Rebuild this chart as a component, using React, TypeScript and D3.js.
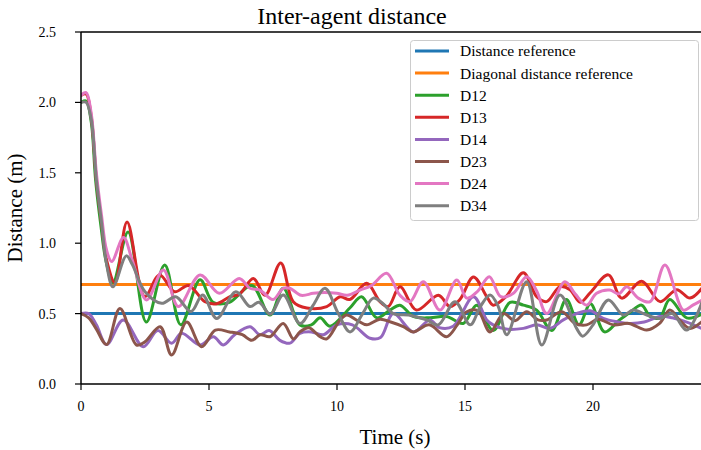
import React from 'react';
import * as d3 from 'd3';

type Pt = [number, number];

// time (s), distance (m)
const d12: Pt[] = [[0, 2.0], [0.2, 2.01], [0.4, 1.86], [0.57, 1.45], [0.78, 1.12], [0.97, 0.88], [1.25, 0.72], [1.84, 1.08], [2.55, 0.44], [3.27, 0.845], [3.9, 0.42], [4.65, 0.74], [5.16, 0.58], [5.8, 0.58], [6.67, 0.7], [7.38, 0.49], [7.9, 0.68], [8.55, 0.42], [9.0, 0.42], [9.34, 0.47], [9.73, 0.41], [10.5, 0.54], [10.96, 0.62], [11.55, 0.47], [12.07, 0.525], [12.46, 0.56], [12.98, 0.48], [13.63, 0.47], [14.28, 0.48], [14.93, 0.43], [15.46, 0.56], [16.1, 0.38], [16.76, 0.58], [17.28, 0.56], [17.8, 0.525], [18.39, 0.38], [18.96, 0.6], [19.45, 0.42], [19.9, 0.57], [20.45, 0.37], [21.0, 0.45], [21.45, 0.51], [21.9, 0.56], [22.23, 0.48], [22.6, 0.47], [23.0, 0.6], [23.66, 0.47], [24.3, 0.5]];
const d13: Pt[] = [[0, 2.05], [0.2, 2.06], [0.4, 1.9], [0.6, 1.45], [0.8, 1.15], [1.0, 0.88], [1.33, 0.72], [1.8, 1.15], [2.49, 0.62], [3.07, 0.775], [3.66, 0.655], [4.2, 0.7], [4.84, 0.585], [5.3, 0.57], [5.82, 0.62], [6.2, 0.64], [6.73, 0.75], [7.19, 0.63], [7.8, 0.86], [8.29, 0.585], [8.82, 0.54], [9.6, 0.55], [10.12, 0.62], [10.5, 0.6], [11.16, 0.715], [11.68, 0.585], [12.0, 0.55], [12.46, 0.69], [13.1, 0.525], [13.96, 0.63], [14.41, 0.55], [14.8, 0.6], [15.33, 0.76], [15.85, 0.62], [16.1, 0.56], [16.6, 0.62], [17.28, 0.79], [17.8, 0.62], [18.19, 0.585], [18.7, 0.69], [19.1, 0.67], [19.5, 0.58], [19.9, 0.65], [20.6, 0.775], [21.12, 0.61], [21.9, 0.73], [22.62, 0.585], [23.27, 0.67], [23.79, 0.61], [24.3, 0.69]];
const d14: Pt[] = [[0, 0.5], [0.3, 0.5], [0.6, 0.42], [1.0, 0.28], [1.65, 0.455], [2.43, 0.265], [3.0, 0.38], [3.54, 0.29], [3.93, 0.36], [4.65, 0.277], [5.17, 0.336], [5.56, 0.277], [6.0, 0.35], [6.6, 0.407], [6.99, 0.35], [7.35, 0.38], [7.77, 0.31], [8.16, 0.29], [8.55, 0.36], [9.0, 0.37], [9.47, 0.35], [9.99, 0.42], [10.6, 0.42], [11.29, 0.325], [11.7, 0.33], [12.2, 0.5], [12.98, 0.37], [13.63, 0.455], [14.0, 0.4], [14.54, 0.41], [15.33, 0.62], [15.85, 0.455], [16.1, 0.42], [16.6, 0.39], [17.28, 0.395], [17.8, 0.42], [18.32, 0.395], [18.84, 0.455], [19.36, 0.5], [19.9, 0.52], [20.4, 0.466], [21.0, 0.44], [21.45, 0.43], [22.0, 0.44], [22.62, 0.48], [23.1, 0.47], [23.66, 0.44], [24.3, 0.39]];
const d23: Pt[] = [[0, 0.5], [0.3, 0.47], [0.6, 0.39], [1.0, 0.28], [1.52, 0.537], [2.17, 0.277], [2.5, 0.3], [3.09, 0.407], [3.54, 0.206], [4.13, 0.44], [4.71, 0.265], [5.25, 0.383], [5.8, 0.37], [6.3, 0.35], [6.67, 0.31], [7.0, 0.35], [7.38, 0.336], [7.9, 0.43], [8.3, 0.32], [8.55, 0.37], [8.9, 0.4], [9.34, 0.336], [9.6, 0.32], [10.12, 0.455], [10.38, 0.49], [10.8, 0.45], [11.16, 0.42], [11.68, 0.46], [12.1, 0.44], [12.59, 0.407], [12.98, 0.37], [13.6, 0.42], [14.28, 0.336], [14.7, 0.42], [15.07, 0.513], [15.5, 0.52], [15.98, 0.37], [16.5, 0.5], [16.95, 0.45], [17.41, 0.513], [17.85, 0.455], [18.19, 0.455], [18.78, 0.513], [19.3, 0.43], [19.75, 0.42], [20.2, 0.46], [20.8, 0.42], [21.4, 0.43], [22.1, 0.383], [22.6, 0.43], [23.0, 0.525], [23.4, 0.45], [23.79, 0.395], [24.3, 0.45]];
const d24: Pt[] = [[0, 2.05], [0.2, 2.07], [0.4, 1.92], [0.6, 1.5], [0.8, 1.2], [1.0, 0.95], [1.2, 0.87], [1.66, 1.04], [2.0, 0.88], [2.56, 0.597], [3.22, 0.81], [3.8, 0.55], [4.65, 0.774], [5.4, 0.644], [6.18, 0.75], [6.6, 0.68], [6.99, 0.667], [7.5, 0.6], [7.9, 0.68], [8.16, 0.68], [8.6, 0.63], [9.07, 0.644], [9.5, 0.65], [9.99, 0.644], [10.4, 0.63], [10.9, 0.667], [11.35, 0.7], [11.94, 0.786], [12.46, 0.63], [12.85, 0.585], [13.37, 0.727], [14.02, 0.525], [14.68, 0.739], [15.07, 0.61], [15.5, 0.66], [15.95, 0.762], [16.4, 0.62], [16.89, 0.644], [17.41, 0.762], [17.8, 0.66], [18.19, 0.5], [18.9, 0.727], [19.3, 0.64], [19.75, 0.56], [20.14, 0.644], [20.66, 0.667], [21.0, 0.64], [21.32, 0.69], [21.77, 0.61], [22.23, 0.585], [22.81, 0.845], [23.53, 0.525], [23.9, 0.56], [24.3, 0.6]];
const d34: Pt[] = [[0, 2.0], [0.2, 2.0], [0.4, 1.88], [0.6, 1.45], [0.8, 1.15], [1.0, 0.85], [1.25, 0.69], [1.77, 0.91], [2.0, 0.85], [2.5, 0.655], [3.15, 0.573], [3.7, 0.62], [4.3, 0.515], [4.75, 0.632], [5.3, 0.466], [6.05, 0.656], [6.6, 0.55], [6.95, 0.58], [7.4, 0.495], [7.9, 0.632], [8.55, 0.43], [9.07, 0.56], [9.53, 0.68], [10.05, 0.5], [10.51, 0.37], [11.0, 0.5], [11.42, 0.61], [11.8, 0.57], [12.2, 0.5], [12.8, 0.49], [13.5, 0.455], [13.96, 0.42], [14.61, 0.585], [15.2, 0.42], [15.6, 0.55], [15.98, 0.632], [16.3, 0.55], [16.63, 0.35], [17.41, 0.727], [18.0, 0.277], [18.71, 0.632], [19.36, 0.395], [19.6, 0.34], [20.0, 0.42], [20.6, 0.597], [21.18, 0.49], [21.57, 0.525], [22.1, 0.49], [22.62, 0.466], [23.1, 0.5], [23.66, 0.383], [24.3, 0.6]];

const distanceRef = 0.5;
const diagonalRef = 0.7071;

const seriesNames = ['D12', 'D13', 'D14', 'D23', 'D24', 'D34'];
const seriesData = [d12, d13, d14, d23, d24, d34];
const seriesColors = ['#2ca02c', '#d62728', '#9467bd', '#8c564b', '#e377c2', '#7f7f7f'];

const refNames = ['Distance reference', 'Diagonal distance reference'];
const refValues = [distanceRef, diagonalRef];
const refColors = ['#1f77b4', '#ff7f0e'];

const xTicks = [0, 5, 10, 15, 20];
const yTicks = [0, 0.5, 1.0, 1.5, 2.0, 2.5];

const W = 701, H = 450;
const plot = { left: 81, top: 32, right: 721, bottom: 384 };
const font = '"Liberation Serif", "DejaVu Serif", serif';

export default function App() {
  const x = d3.scaleLinear().domain([0, 25]).range([plot.left, plot.right]);
  const y = d3.scaleLinear().domain([0, 2.5]).range([plot.bottom, plot.top]);

  const line = d3.line<Pt>()
    .x(d => x(d[0]))
    .y(d => y(d[1]))
    .curve(d3.curveCatmullRom.alpha(0.5));

  const legendItems = [
    ...refNames.map((n, i) => ({ name: n, color: refColors[i] })),
    ...seriesNames.map((n, i) => ({ name: n, color: seriesColors[i] })),
  ];

  return (
    <svg width={W} height={H} style={{ position: 'absolute', left: 0, top: 0, background: '#fff' }}
      fontFamily={font}>
      <defs>
        <clipPath id="plotclip">
          <rect x={plot.left} y={plot.top} width={plot.right - plot.left} height={plot.bottom - plot.top} />
        </clipPath>
      </defs>

      <text x={352} y={24} textAnchor="middle" fontSize={24}>Inter-agent distance</text>

      <g clipPath="url(#plotclip)">
        {refValues.map((v, i) => (
          <line key={refNames[i]} x1={x(0)} x2={x(25)} y1={y(v)} y2={y(v)}
            stroke={refColors[i]} strokeWidth={3} />
        ))}
        {seriesData.map((s, i) => (
          <path key={seriesNames[i]} d={line(s) || ''} fill="none"
            stroke={seriesColors[i]} strokeWidth={3} strokeLinejoin="round" strokeLinecap="round" />
        ))}
      </g>

      {/* spines */}
      <line x1={plot.left} x2={plot.left} y1={plot.top} y2={plot.bottom} stroke="#000" strokeWidth={1.5} />
      <line x1={plot.left} x2={plot.right} y1={plot.bottom} y2={plot.bottom} stroke="#000" strokeWidth={1.5} />
      <line x1={plot.left} x2={plot.right} y1={plot.top} y2={plot.top} stroke="#000" strokeWidth={1.5} />

      {/* y ticks */}
      {yTicks.map(t => (
        <g key={'y' + t}>
          <line x1={plot.left - 6} x2={plot.left} y1={y(t)} y2={y(t)} stroke="#000" strokeWidth={1.2} />
          <text x={plot.left - 25} y={y(t)} dy="0.35em" textAnchor="end" fontSize={14}>{d3.format('.1f')(t)}</text>
        </g>
      ))}

      {/* x ticks */}
      {xTicks.map(t => (
        <g key={'x' + t}>
          <line x1={x(t)} x2={x(t)} y1={plot.bottom} y2={plot.bottom + 6} stroke="#000" strokeWidth={1.2} />
          <text x={x(t)} y={plot.bottom + 27} textAnchor="middle" fontSize={14}>{t}</text>
        </g>
      ))}

      <text x={395} y={444} textAnchor="middle" fontSize={21}>Time (s)</text>
      <text transform={`translate(22,${208}) rotate(-90)`} textAnchor="middle" fontSize={21}>Distance (m)</text>

      {/* legend */}
      <g>
        <rect x={410.5} y={40.5} width={288} height={180} rx={3} fill="#fff" fillOpacity={0.85}
          stroke="#cccccc" strokeWidth={1} />
        {legendItems.map((it, i) => {
          const ly = 51 + i * 22.1;
          return (
            <g key={it.name}>
              <line x1={415} x2={449} y1={ly} y2={ly} stroke={it.color} strokeWidth={3} />
              <text x={460} y={ly} dy="0.35em" fontSize={15.5}>{it.name}</text>
            </g>
          );
        })}
      </g>
    </svg>
  );
}
